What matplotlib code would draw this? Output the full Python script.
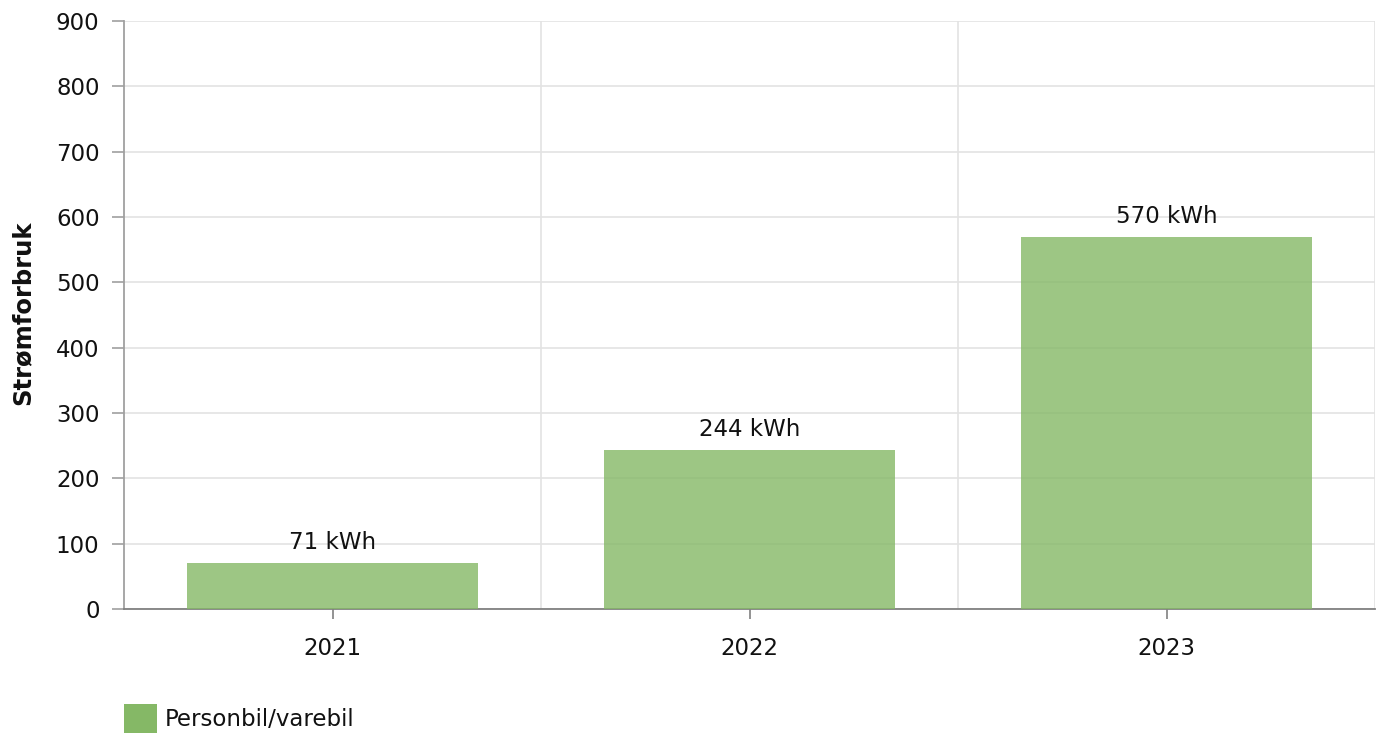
import matplotlib
matplotlib.use("Agg")
import matplotlib.pyplot as plt
from matplotlib.patches import Patch

categories = ["2021", "2022", "2023"]
values = [71, 244, 570]
labels = ["71 kWh", "244 kWh", "570 kWh"]
series_name = "Personbil/varebil"
y_label = "Strømforbruk"
yticks = [0, 100, 200, 300, 400, 500, 600, 700, 800, 900]

W, H = 1381, 738
FS = 16.5
fig = plt.figure(figsize=(W / 100, H / 100), dpi=100)
plt.rcParams['font.family'] = ['DejaVu Sans']
ax = fig.add_axes([124 / W, 1 - 609 / H, (1375 - 124) / W, (609 - 21) / H])

color = "#85b866"
x = list(range(len(categories)))
ax.bar(x, values, width=0.70, color=color, alpha=0.8, zorder=3)
for xi, v, lab in zip(x, values, labels):
    ax.annotate(lab, (xi, v), xytext=(0, 6.5), textcoords="offset points",
                ha="center", va="bottom", fontsize=FS, color="#111111", zorder=4)

ax.set_xlim(-0.5, len(categories) - 0.5)
ax.set_ylim(0, 900)
ax.set_yticks(yticks)
ax.set_yticklabels([str(t) for t in yticks], fontsize=FS, color="#111111")
ax.set_xticks(x)
ax.set_xticklabels(categories, fontsize=FS, color="#111111")

ax.grid(axis="y", color="#e3e3e3", linewidth=1.2, zorder=0)
for b in [0.5, 1.5, 2.5]:
    ax.axvline(b, color="#e3e3e3", linewidth=1.2, zorder=0)

for s in ["top", "right"]:
    ax.spines[s].set_visible(False)
ax.spines["left"].set_color("#a0a0a0")
ax.spines["left"].set_linewidth(1.3)
ax.spines["bottom"].set_color("#808080")
ax.spines["bottom"].set_linewidth(1.3)
ax.tick_params(axis="y", length=8.6, width=1.2, color="#a0a0a0", pad=9)
ax.tick_params(axis="x", length=7.5, width=1.2, color="#808080", pad=13)

fig.text(22 / W, 1 - 313 / H, y_label, rotation=90, ha="center", va="center",
         fontsize=17.5, fontweight="bold", color="#111111")

leg = fig.legend(handles=[Patch(facecolor=color, edgecolor="none", label=series_name)],
                 loc="lower left", bbox_to_anchor=(115 / W, -0.006), frameon=False,
                 fontsize=FS, handlelength=1.45, handleheight=1.6, handletextpad=0.3,
                 borderaxespad=0.0)
for t in leg.get_texts():
    t.set_color("#111111")

fig.savefig("out.png", dpi=100)
